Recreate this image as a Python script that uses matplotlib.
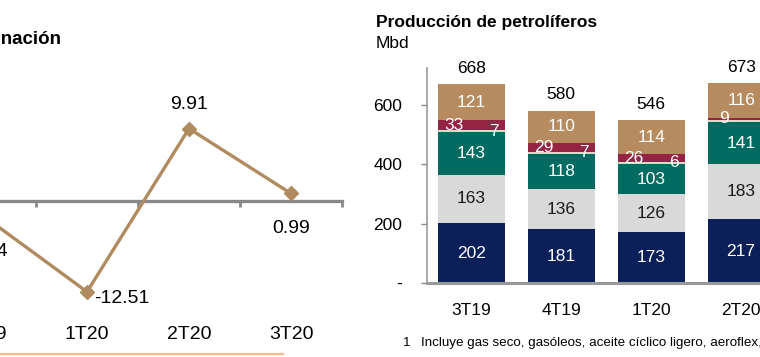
import matplotlib
matplotlib.use("Agg")
import matplotlib.pyplot as plt
from matplotlib.lines import Line2D
import numpy as np

plt.rcParams['font.family'] = ['Liberation Sans', 'DejaVu Sans']

# ---- Left chart data (margen variable de refinación) ----
margin_cats = ['4T19', '1T20', '2T20', '3T20']
margin_vals = [-2.24, -12.51, 9.91, 0.99]
margin_lbls = ['-2.24', '-12.51', '9.91', '0.99']

# ---- Right chart data (producción de petrolíferos) ----
prod_cats = ['3T19', '4T19', '1T20', '2T20']
s_navy = [202, 181, 173, 217]
s_gray = [163, 136, 126, 183]
s_teal = [143, 118, 103, 141]
s_light = [7, 7, 6, 7]
s_red = [33, 29, 26, 9]
s_tan = [121, 110, 114, 116]
totals = [668, 580, 546, 673]

W, H = 760, 357
fig = plt.figure(figsize=(W / 100, H / 100), dpi=100)

def fx(px):
    return px / W

def fy(py):
    return 1 - py / H

TAN = '#b08b5f'

# ================= Left chart =================
ylo, yhi = -16, 16
axL = fig.add_axes([fx(-66), fy(317.2), fx(408), (317.2 - 84.2) / H])
x = np.arange(len(margin_cats))
axL.plot(x, margin_vals, color=TAN, lw=2.4, marker='D', ms=7, mec=TAN, mfc=TAN, zorder=3)
axL.set_xlim(-0.5, len(margin_cats) - 0.5)
axL.set_ylim(ylo, yhi)
for s in axL.spines.values():
    s.set_visible(False)
axL.set_yticks([])
axL.set_xticks(x)
axL.set_xticklabels(margin_cats, fontsize=14)
axL.tick_params(axis='x', length=0, pad=6)

zero_frac = (0 - ylo) / (yhi - ylo)
sec = axL.secondary_xaxis(zero_frac)
for k, s in sec.spines.items():
    s.set_visible(k == 'bottom')
sec.spines['bottom'].set_color('#888888')
sec.spines['bottom'].set_linewidth(2.4)
sec.set_xticks(np.arange(len(margin_cats) + 1) - 0.5)
sec.set_xticklabels([])
sec.tick_params(axis='x', direction='in', length=4, width=2, color='#888888')

for i, (v, t) in enumerate(zip(margin_vals, margin_lbls)):
    if t == '-12.51':
        axL.annotate(t, (i, v), xytext=(5, -5), textcoords='offset points',
                     ha='left', va='center', fontsize=14)
    elif v > 5:
        axL.annotate(t, (i, v), xytext=(0, 17), textcoords='offset points',
                     ha='center', va='center', fontsize=14)
    else:
        axL.annotate(t, (i, v), xytext=(0, -25), textcoords='offset points',
                     ha='center', va='center', fontsize=14)

fig.text(fx(61), fy(40), 'Margen variable de refinación', ha='right', va='center',
         fontsize=13.5, fontweight='bold')

fig.add_artist(Line2D([0, fx(283)], [fy(353.5), fy(353.5)], color='#f6b98e', lw=1.6,
                      transform=fig.transFigure))

# ================= Right chart =================
axR = fig.add_axes([fx(427), fy(283.3), fx(448.2), (283.3 - 68) / H])
xr = np.arange(len(prod_cats))
bw = 0.745
series = [
    (s_navy, '#0b2059', 'white', 'c'),
    (s_gray, '#d9d9d9', '#1a1a1a', 'c'),
    (s_teal, '#006b60', 'white', 'c'),
    (s_light, '#e7d3c8', 'white', 'r'),
    (s_red, '#952343', 'white', 'l'),
    (s_tan, '#b58b5f', 'white', 'c'),
]
bottom = np.zeros(len(prod_cats))
for vals, col, tcol, pos in series:
    vals = np.array(vals, dtype=float)
    axR.bar(xr, vals, bw, bottom=bottom, color=col, edgecolor='none', zorder=2)
    for i, v in enumerate(vals):
        mid = bottom[i] + v / 2
        if pos == 'c':
            axR.text(xr[i], mid, f'{int(v)}', ha='center', va='center', color=tcol, fontsize=12.5)
        elif pos == 'l':
            axR.text(xr[i] - 0.19, mid, f'{int(v)}', ha='center', va='center', color=tcol, fontsize=12.5)
        else:
            axR.text(xr[i] + 0.255, mid, f'{int(v)}', ha='center', va='center', color=tcol, fontsize=12.5)
    bottom += vals

for i, t in enumerate(totals):
    axR.annotate(f'{t}', (xr[i], bottom[i]), xytext=(0, 11.5), textcoords='offset points',
                 ha='center', va='center', fontsize=12.5)

axR.set_xlim(-0.49, 4.49)
axR.set_ylim(0, 724)
axR.set_yticks([0, 200, 400, 600])
axR.set_yticklabels(['-', '200', '400', '600'], fontsize=12.5)
axR.set_xticks(xr)
axR.set_xticklabels(prod_cats, fontsize=12.5)
axR.tick_params(axis='x', length=0, pad=14)
axR.tick_params(axis='y', length=4, width=1, color='#888888', pad=14)
axR.spines['top'].set_visible(False)
axR.spines['right'].set_visible(False)
axR.spines['left'].set_color('#999999')
axR.spines['left'].set_linewidth(1.2)
axR.spines['bottom'].set_color('#999999')
axR.spines['bottom'].set_linewidth(2.2)

fig.text(fx(376), fy(22), 'Producción de petrolíferos', ha='left', va='center',
         fontsize=12.5, fontweight='bold')
fig.text(fx(376), fy(43), 'Mbd', ha='left', va='center', fontsize=12.5)

fig.text(fx(403), fy(343), '1', ha='left', va='center', fontsize=9.6)
fig.text(fx(421), fy(343), 'Incluye gas seco, gasóleos, aceite cíclico ligero, aeroflex, asfaltos, lubricantes, coque, combustóleo y otros.',
         ha='left', va='center', fontsize=9.6)

fig.savefig('out.png', dpi=100)
